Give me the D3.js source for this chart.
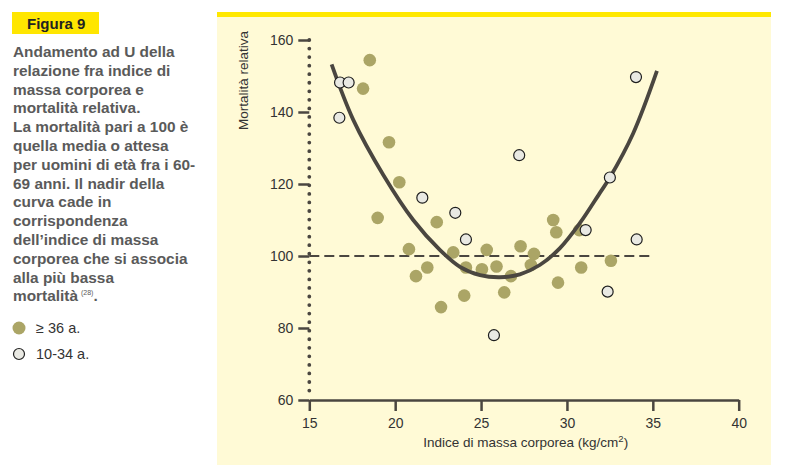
<!DOCTYPE html>
<html>
<head>
<meta charset="utf-8">
<script src="https://cdn.jsdelivr.net/npm/d3@7"></script>
<style>
  body { margin: 0; background: #fff; }
  svg { display: block; font-family: "Liberation Sans", Arial, sans-serif; }
</style>
</head>
<body>
<script>
'use strict';

// tick values
const xTicks = [15, 20, 25, 30, 35, 40];
const yTicks = [60, 80, 100, 120, 140, 160];

// filled points: age >= 36
const oldX = [18.52, 18.13, 19.64, 20.24, 18.98, 22.42, 20.80, 23.38, 25.33, 21.87, 21.21, 24.12, 25.05, 25.90,
  26.74, 27.30, 26.35, 24.02, 22.67, 29.20, 29.38, 30.72, 28.08, 27.90, 30.83, 32.56, 29.48];
const oldY = [154.4, 146.5, 131.6, 120.5, 110.6, 109.4, 101.9, 101.0, 101.7, 96.8, 94.4, 96.8, 96.3, 97.1,
  94.4, 102.7, 89.9, 89.0, 85.8, 110.0, 106.6, 107.2, 100.6, 97.5, 96.8, 98.7, 92.6];

// open points: age 10-34
const youngX = [16.79, 17.29, 16.75, 21.58, 23.50, 24.12, 25.75, 27.22, 32.50, 31.09, 34.06, 32.37, 34.02];
const youngY = [148.2, 148.2, 138.4, 116.2, 112.0, 104.6, 78.0, 128.0, 121.8, 107.2, 104.6, 90.1, 149.7];

// fitted U curve
const curveX = [16.3, 17.56, 19.31, 21.05, 22.6, 23.77, 24.94, 26.1, 27.26, 28.42, 29.58, 30.75, 31.9, 32.5, 33.86, 35.24];
const curveY = [153.2, 137.8, 122.5, 110.0, 101.7, 97.0, 94.7, 94.1, 94.9, 97.5, 102.1, 109.1, 117.4, 121.8, 134.1, 151.4];

// reference line
const refValue = 100;
const refRange = [15, 35];

const captionLines = [
  "Andamento ad U della",
  "relazione fra indice di",
  "massa corporea e",
  "mortalità relativa.",
  "La mortalità pari a 100 è",
  "quella media o attesa",
  "per uomini di età fra i 60-",
  "69 anni. Il nadir della",
  "curva cade in",
  "corrispondenza",
  "dell’indice di massa",
  "corporea che si associa",
  "alla più bassa",
  "mortalità"
];
const legendLabels = ["≥ 36 a.", "10-34 a."];

const ink = "#4a4640";
const olive = "#aba566";

const svg = d3.select("body").append("svg")
  .attr("width", 785)
  .attr("height", 470);

svg.append("rect").attr("width", 785).attr("height", 470).attr("fill", "#fff");

// ---- left caption ----
svg.append("rect")
  .attr("x", 12).attr("y", 12).attr("width", 87).attr("height", 22)
  .attr("fill", "#ffe600");
svg.append("text")
  .attr("x", 27).attr("y", 28.5)
  .style("font-size", "15px").style("font-weight", "bold").attr("fill", "#222")
  .text("Figura 9");

const caption = svg.append("text")
  .style("font-size", "15.4px").style("font-weight", "bold").attr("fill", "#5a5a5a");
captionLines.forEach((line, i) => {
  caption.append("tspan").attr("x", 13).attr("y", 57 + i * 18.8).text(line);
});
caption.append("tspan").attr("dx", 3).attr("dy", -6).style("font-size", "7px").style("font-weight", "normal").text("(28)");
caption.append("tspan").attr("dy", 6).text(".");

// legend
svg.append("circle").attr("cx", 19).attr("cy", 328).attr("r", 6.5).attr("fill", olive);
svg.append("circle").attr("cx", 19).attr("cy", 354).attr("r", 5.5)
  .attr("fill", "#e9e9e3").attr("stroke", "#222").attr("stroke-width", 1.2);
legendLabels.forEach((t, i) => {
  svg.append("text").attr("x", 36).attr("y", 333 + i * 26)
    .style("font-size", "14.5px").attr("fill", "#333").text(t);
});

// ---- chart panel ----
svg.append("rect").attr("x", 217).attr("y", 12).attr("width", 554).attr("height", 453).attr("fill", "#fffad6");
svg.append("rect").attr("x", 217).attr("y", 12).attr("width", 554).attr("height", 5).attr("fill", "#ffe800");

const xScale = d3.scaleLinear().domain([15, 40]).range([309.3, 738.7]);
const yScale = d3.scaleLinear().domain([60, 160]).range([400, 40]);

// dotted y axis line
svg.append("line")
  .attr("x1", xScale(15)).attr("x2", xScale(15))
  .attr("y1", yScale(160)).attr("y2", yScale(61.5))
  .attr("stroke", ink).attr("stroke-width", 3.8)
  .attr("stroke-linecap", "round").attr("stroke-dasharray", "0,8.55");

const yAxis = svg.append("g")
  .attr("transform", `translate(${xScale(15)},0)`)
  .call(d3.axisLeft(yScale).tickValues(yTicks).tickSize(11).tickPadding(5));
yAxis.select(".domain").remove();

const xAxis = svg.append("g")
  .attr("transform", `translate(0,${yScale(60)})`)
  .call(d3.axisBottom(xScale).tickValues(xTicks).tickSize(11).tickSizeOuter(0).tickPadding(7));

[xAxis, yAxis].forEach(g => {
  g.selectAll("line, path").attr("stroke", ink).attr("stroke-width", 2.5);
  g.selectAll("text").attr("fill", "#333").style("font-size", "14px")
    .style("font-family", "'Liberation Sans', Arial, sans-serif");
});

// axis titles
const xTitle = svg.append("text")
  .attr("x", 525.7).attr("y", 446.5).attr("text-anchor", "middle")
  .style("font-size", "13.5px").attr("fill", "#333");
xTitle.append("tspan").text("Indice di massa corporea (kg/cm");
xTitle.append("tspan").attr("dy", -5).style("font-size", "9.5px").text("2");
xTitle.append("tspan").attr("dy", 5).text(")");

svg.append("text")
  .attr("transform", "translate(248,80.5) rotate(-90)")
  .attr("text-anchor", "middle")
  .style("font-size", "13.5px").attr("fill", "#333")
  .text("Mortalità relativa");

// dashed reference line
svg.append("line")
  .attr("x1", xScale(refRange[0])).attr("x2", xScale(refRange[1]))
  .attr("y1", yScale(refValue)).attr("y2", yScale(refValue))
  .attr("stroke", ink).attr("stroke-width", 2).attr("stroke-dasharray", "10,5");

// filled points
svg.selectAll(".old")
  .data(d3.zip(oldX, oldY))
  .enter().append("circle")
  .attr("class", "old")
  .attr("cx", d => xScale(d[0]))
  .attr("cy", d => yScale(d[1]))
  .attr("r", 6.3)
  .attr("fill", olive);

// U curve
const valueLine = d3.line()
  .x(d => xScale(d[0]))
  .y(d => yScale(d[1]))
  .curve(d3.curveCatmullRom);
svg.append("path")
  .datum(d3.zip(curveX, curveY))
  .attr("fill", "none")
  .attr("stroke", ink)
  .attr("stroke-width", 3.8)
  .attr("d", valueLine);

// open points
svg.selectAll(".young")
  .data(d3.zip(youngX, youngY))
  .enter().append("circle")
  .attr("class", "young")
  .attr("cx", d => xScale(d[0]))
  .attr("cy", d => yScale(d[1]))
  .attr("r", 5.5)
  .attr("fill", "#e9e9e3")
  .attr("stroke", "#1e1e1e")
  .attr("stroke-width", 1.2);
</script>
</body>
</html>
